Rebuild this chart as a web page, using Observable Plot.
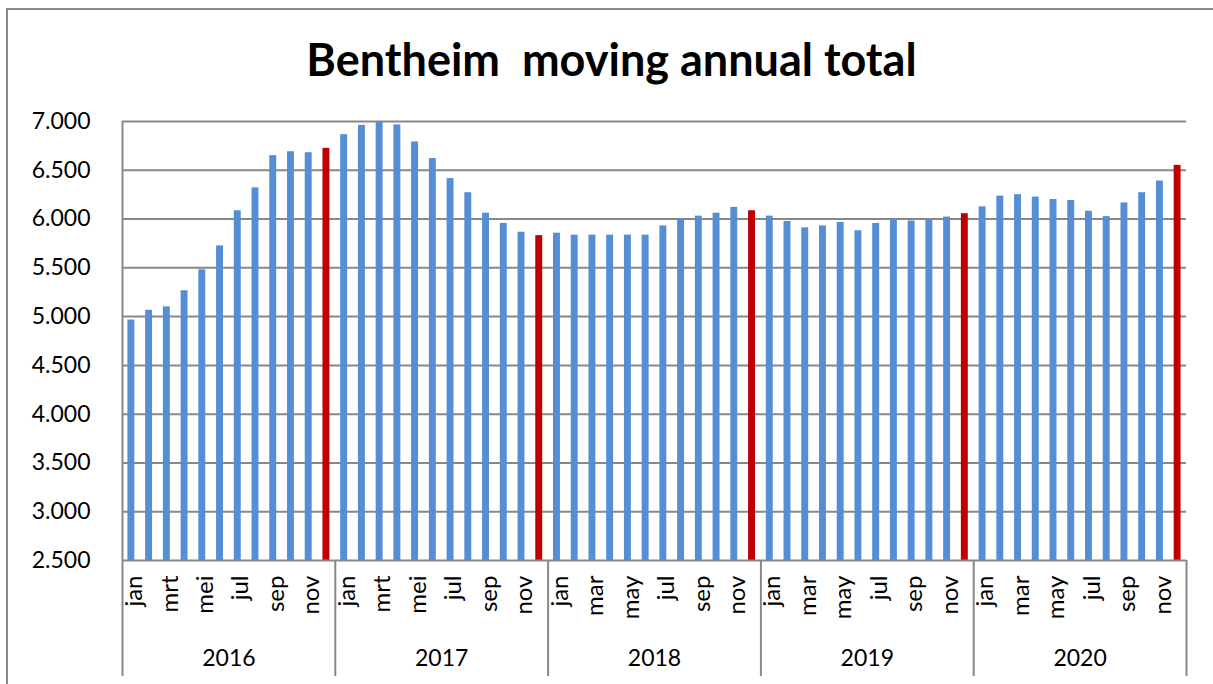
<!DOCTYPE html>
<html>
<head>
<meta charset="utf-8">
<script src="https://cdn.jsdelivr.net/npm/d3@7"></script>
<script src="https://cdn.jsdelivr.net/npm/@observablehq/plot@0.6"></script>
<style>
  body { margin: 0; background: #fff; width: 1213px; height: 684px; overflow: hidden; position: relative; font-family: Lato, "Open Sans", sans-serif; }
  #frame { position: absolute; left: 6px; top: 8px; width: 1300px; height: 800px; border: 2px solid #8a8a8a; box-sizing: border-box; }
  #title { position: absolute; left: 0; top: 33px; width: 1213px; padding-left: 10px; box-sizing: border-box; text-align: center; font-weight: bold; font-size: 45px; line-height: 52px; white-space: pre; color: #000; }
  #chart { position: absolute; left: 0; top: 100px; }
</style>
</head>
<body>
<div id="frame"></div>
<div id="title">Bentheim  moving annual total</div>
<div id="chart"></div>
<script>
const years = [2016, 2017, 2018, 2019, 2020];
const monthsNL = ["jan","feb","mrt","apr","mei","jun","jul","aug","sep","okt","nov","dec"];
const monthsEN = ["jan","feb","mar","apr","may","jun","jul","aug","sep","oct","nov","dec"];
const values2016 = [4965, 5065, 5100, 5265, 5480, 5725, 6085, 6320, 6650, 6690, 6680, 6725];
const values2017 = [6865, 6960, 7000, 6965, 6790, 6620, 6415, 6270, 6060, 5955, 5865, 5830];
const values2018 = [5855, 5835, 5835, 5835, 5835, 5835, 5930, 6000, 6030, 6060, 6120, 6085];
const values2019 = [6030, 5975, 5910, 5930, 5965, 5880, 5955, 5985, 5980, 5985, 6020, 6055];
const values2020 = [6125, 6235, 6250, 6225, 6200, 6190, 6080, 6025, 6165, 6270, 6390, 6550];
const yTicks = [2500, 3000, 3500, 4000, 4500, 5000, 5500, 6000, 6500, 7000];

const seriesByYear = [values2016, values2017, values2018, values2019, values2020];
const monthNamesByYear = [monthsNL, monthsNL, monthsEN, monthsEN, monthsEN];

const data = [];
seriesByYear.forEach((vals, yi) => {
  vals.forEach((v, m) => {
    data.push({i: yi * 12 + m, year: years[yi], m, label: monthNamesByYear[yi][m], value: v});
  });
});

const nBars = data.length;
const monthTicks = data.filter(d => d.m % 2 === 0).map(d => d.i + 0.5);
const labelAt = new Map(data.map(d => [d.i + 0.5, d.label]));
const yearBounds = years.map((y, k) => k * 12).concat([nBars]);
const yearCenters = years.map((y, k) => k * 12 + 6);

const nlFormat = d3.formatLocale({thousands: ".", decimal: ",", grouping: [3], currency: ["", ""]}).format(",");

const gray = "#888888";

const chart = Plot.plot({
  width: 1213,
  height: 584,
  marginLeft: 122,
  marginRight: 27,
  marginTop: 21,
  marginBottom: 124,
  style: {fontFamily: "Lato, 'Open Sans', sans-serif", fontSize: "23px", color: "#000", background: "transparent"},
  x: {type: "linear", domain: [0, nBars], axis: null},
  y: {domain: [2500, 7000], axis: null},
  marks: [
    Plot.ruleY(yTicks.filter(t => t > 2500), {stroke: gray, strokeWidth: 2}),
    Plot.rectY(data, {
      x1: d => d.i,
      x2: d => d.i + 1,
      y1: 2500,
      y2: "value",
      insetLeft: 5.4,
      insetRight: 5.4,
      fill: d => d.m === 11 ? "#c00000" : "#558ed5"
    }),
    Plot.ruleY([2500], {stroke: gray, strokeWidth: 2}),
    Plot.ruleX([0], {y1: 2500, y2: 7000, stroke: gray, strokeWidth: 2}),
    Plot.axisY({ticks: yTicks, tickFormat: nlFormat, tickSize: 0, tickPadding: 32, fontSize: 23, color: "#000", label: null}),
    Plot.axisX({ticks: yearBounds, tickFormat: () => "", tickSize: 116, stroke: gray, strokeWidth: 2, label: null}),
    Plot.axisX({ticks: monthTicks, tickFormat: d => labelAt.get(d), tickRotate: -90, tickSize: 0, tickPadding: 15, dx: 3, fontSize: 24, color: "#000", label: null}),
    Plot.axisX({ticks: yearCenters, tickFormat: d => String(years[(d - 6) / 12]), tickSize: 0, tickPadding: 89, fontSize: 23, color: "#000", label: null})
  ]
});
document.getElementById("chart").appendChild(chart);
</script>
</body>
</html>
